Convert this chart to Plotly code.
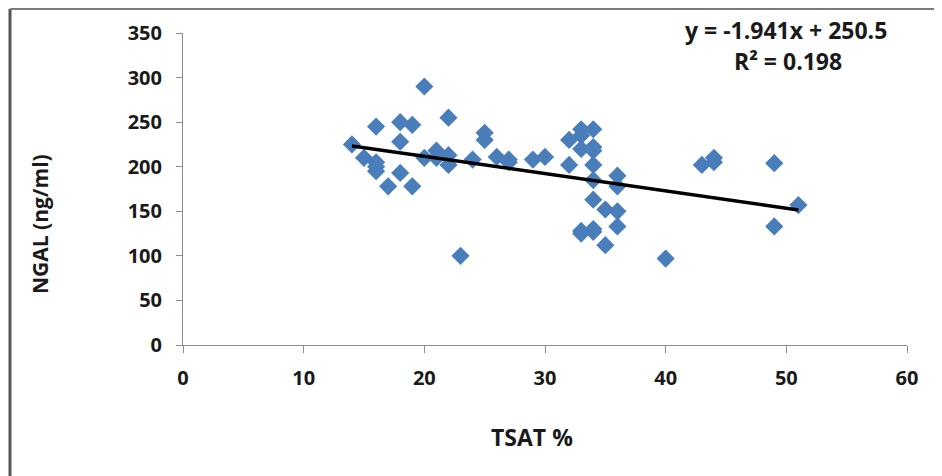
import plotly.graph_objects as go

tsat = [14, 15, 16, 16, 16, 16, 17, 18, 18, 18, 19, 19, 20, 20, 21, 21, 22, 22, 22,
        23, 24, 25, 25, 26, 27, 27, 29, 30, 32, 32, 33, 33, 33, 34, 34, 34, 34, 34,
        33, 33, 34, 34, 34, 35, 35, 36, 36, 36, 36, 40, 43, 44, 44, 49, 49, 51]
ngal = [225, 210, 205, 200, 195, 245, 178, 250, 228, 193, 247, 178, 290, 210, 218, 210, 255, 202, 213,
        100, 208, 238, 230, 211, 208, 205, 208, 211, 202, 230, 235, 220, 242, 222, 242, 218, 202, 185,
        125, 128, 130, 127, 163, 152, 112, 190, 178, 150, 133, 97, 202, 205, 210, 204, 133, 157]

slope = -1.941
intercept = 250.5
r2 = 0.198
fit_x = [min(tsat), max(tsat)]
fit_y = [slope * v + intercept for v in fit_x]

x_ticks = [0, 10, 20, 30, 40, 50, 60]
y_ticks = [0, 50, 100, 150, 200, 250, 300, 350]

FONT = "Open Sans"
TXT = "#1a1a1a"

# body margin of 8px offsets the figure; compensate so plot area sits at 183..907 x 33..345
L, T = 175, 25
W, H = 942, 476
R = W - (907 - 8)
B = H - (345 - 8)
PW, PH = 907 - 183, 345 - 33


def px(xp):
    return (xp - 183) / PW


def py(yp):
    return (345 - yp) / PH


fig = go.Figure()
fig.add_trace(go.Scatter(x=tsat, y=ngal, mode="markers",
                         marker=dict(symbol="diamond", size=14, color="#4A7EBB"),
                         showlegend=False))
fig.add_trace(go.Scatter(x=fit_x, y=fit_y, mode="lines",
                         line=dict(color="black", width=3.5), showlegend=False))

fig.update_layout(
    width=W, height=H,
    margin=dict(l=L, r=R, t=T, b=B),
    paper_bgcolor="white", plot_bgcolor="white",
    font=dict(family=FONT, size=20, color=TXT),
    xaxis=dict(range=[0, 60], tickvals=x_ticks, showgrid=False, zeroline=False,
               showline=True, linecolor="#8c8c8c", linewidth=1,
               ticks="outside", ticklen=7, tickcolor="#8c8c8c",
               ticklabelstandoff=8,
               tickfont=dict(family=FONT, size=20, color=TXT, weight="bold")),
    yaxis=dict(range=[0, 350], tickvals=y_ticks, showgrid=False, zeroline=False,
               showline=True, linecolor="#8c8c8c", linewidth=1,
               ticks="outside", ticklen=6, tickcolor="#8c8c8c",
               ticklabelstandoff=10,
               tickfont=dict(family=FONT, size=20, color=TXT, weight="bold")),
    annotations=[
        dict(x=px(532), y=py(437), xref="paper", yref="paper", showarrow=False,
             text="<b>TSAT %</b>", font=dict(family=FONT, size=23, color=TXT),
             xanchor="center", yanchor="middle"),
        dict(x=px(40), y=py(224), xref="paper", yref="paper", showarrow=False,
             text="<b>NGAL (ng/ml)</b>", font=dict(family=FONT, size=21, color=TXT),
             textangle=-90, xanchor="center", yanchor="middle"),
        dict(x=px(786), y=py(30), xref="paper", yref="paper", showarrow=False,
             text=f"<b>y = {slope}x + {intercept}</b>", font=dict(family=FONT, size=23, color=TXT),
             xanchor="center", yanchor="middle"),
        dict(x=px(788), y=py(61), xref="paper", yref="paper", showarrow=False,
             text=f"<b>R² = {r2}</b>", font=dict(family=FONT, size=23, color=TXT),
             xanchor="center", yanchor="middle"),
    ],
    shapes=[
        dict(type="line", xref="paper", yref="paper", x0=px(10), x1=px(10), y0=py(480), y1=py(9),
             line=dict(color="#555555", width=3)),
        dict(type="line", xref="paper", yref="paper", x0=px(10), x1=px(945), y0=py(9), y1=py(9),
             line=dict(color="#7a7a7a", width=2)),
    ],
)

fig.write_html("out.html")
